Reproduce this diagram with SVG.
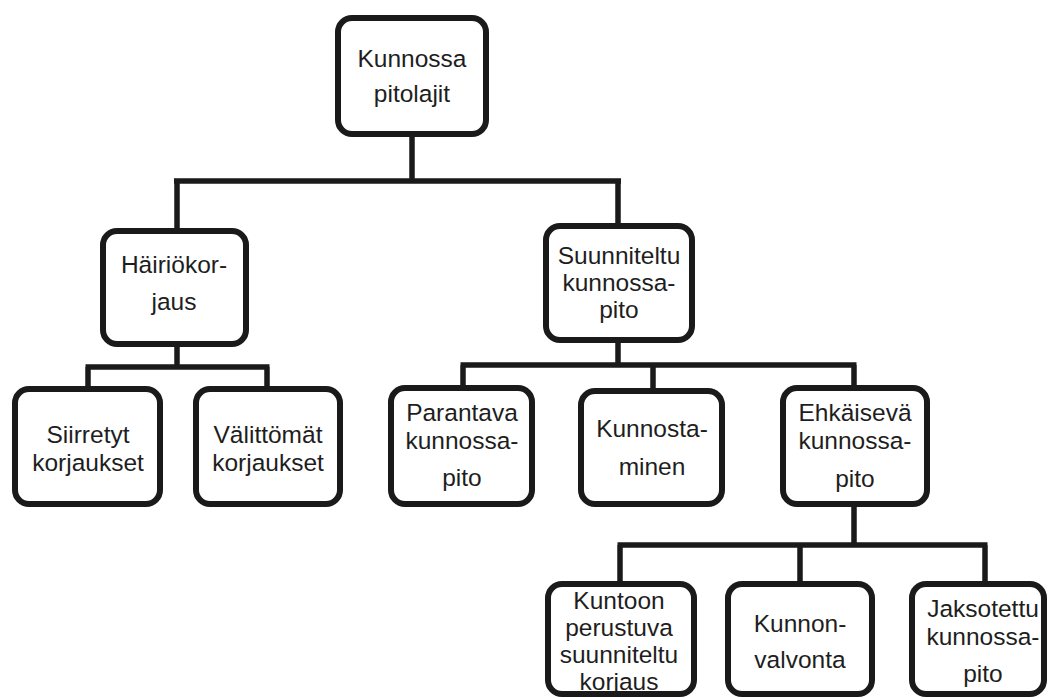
<svg xmlns="http://www.w3.org/2000/svg" width="1051" height="698" viewBox="0 0 1051 698">
<style>
.box{fill:#fff;stroke:#1a1a1a;stroke-width:6}
.t{font-family:"Liberation Sans",Arial,sans-serif;font-size:24.5px;fill:#1e1e1e;text-anchor:middle}
.c{fill:none;stroke:#1a1a1a;stroke-width:5.5;stroke-linejoin:miter}
</style>
<rect width="1051" height="698" fill="#fff"/>
<g id="connectors">
<path class="c" d="M412 137V181M174 181H621M177 181V228M618 181V223"/>
<path class="c" d="M177 347V367M85.5 367H269.5M88 367V386M267 367V386"/>
<path class="c" d="M618 343V365M460.5 365H856.5M463 365V385M653 365V388M854 365V385"/>
<path class="c" d="M854 507V545M617.5 545H987.5M620 545V581M800 545V581M985 545V581"/>
</g>
<g id="root"><rect class="box" x="338" y="18" width="148" height="116" rx="14"/><text class="t" x="412" y="67">Kunnossa</text><text class="t" x="412" y="102">pitolajit</text></g>
<g id="hairiokorjaus"><rect class="box" x="103" y="231" width="143" height="113" rx="14"/><text class="t" x="174" y="273">Häiriökor-</text><text class="t" x="174" y="310">jaus</text></g>
<g id="suunniteltu"><rect class="box" x="546" y="226" width="146" height="114" rx="14"/><text class="t" x="619" y="264">Suunniteltu</text><text class="t" x="619" y="291">kunnossa-</text><text class="t" x="619" y="318">pito</text></g>
<g id="siirretyt"><rect class="box" x="15" y="389" width="145" height="115" rx="14"/><text class="t" x="88" y="443">Siirretyt</text><text class="t" x="88" y="471">korjaukset</text></g>
<g id="valittomat"><rect class="box" x="196" y="389" width="144" height="115" rx="14"/><text class="t" x="268" y="443">Välittömät</text><text class="t" x="268" y="471">korjaukset</text></g>
<g id="parantava"><rect class="box" x="391" y="388" width="141" height="116" rx="14"/><text class="t" x="462" y="421">Parantava</text><text class="t" x="462" y="449">kunnossa-</text><text class="t" x="462" y="486">pito</text></g>
<g id="kunnostaminen"><rect class="box" x="581" y="391" width="141" height="113" rx="14"/><text class="t" x="652" y="437">Kunnosta-</text><text class="t" x="652" y="475">minen</text></g>
<g id="ehkaiseva"><rect class="box" x="783" y="388" width="144" height="116" rx="14"/><text class="t" x="855" y="421">Ehkäisevä</text><text class="t" x="855" y="449">kunnossa-</text><text class="t" x="855" y="487">pito</text></g>
<g id="kuntoon"><rect class="box" x="548" y="584" width="146" height="110" rx="14"/><text class="t" x="619" y="609">Kuntoon</text><text class="t" x="619" y="636">perustuva</text><text class="t" x="619" y="663">suunniteltu</text><text class="t" x="619" y="690">korjaus</text></g>
<g id="kunnonvalvonta"><rect class="box" x="728" y="584" width="144" height="110" rx="14"/><text class="t" x="800" y="632">Kunnon-</text><text class="t" x="800" y="668">valvonta</text></g>
<g id="jaksotettu"><rect class="box" x="912" y="584" width="132" height="110" rx="14"/><text class="t" x="983" y="617">Jaksotettu</text><text class="t" x="983" y="645">kunnossa-</text><text class="t" x="983" y="682">pito</text></g>
</svg>
